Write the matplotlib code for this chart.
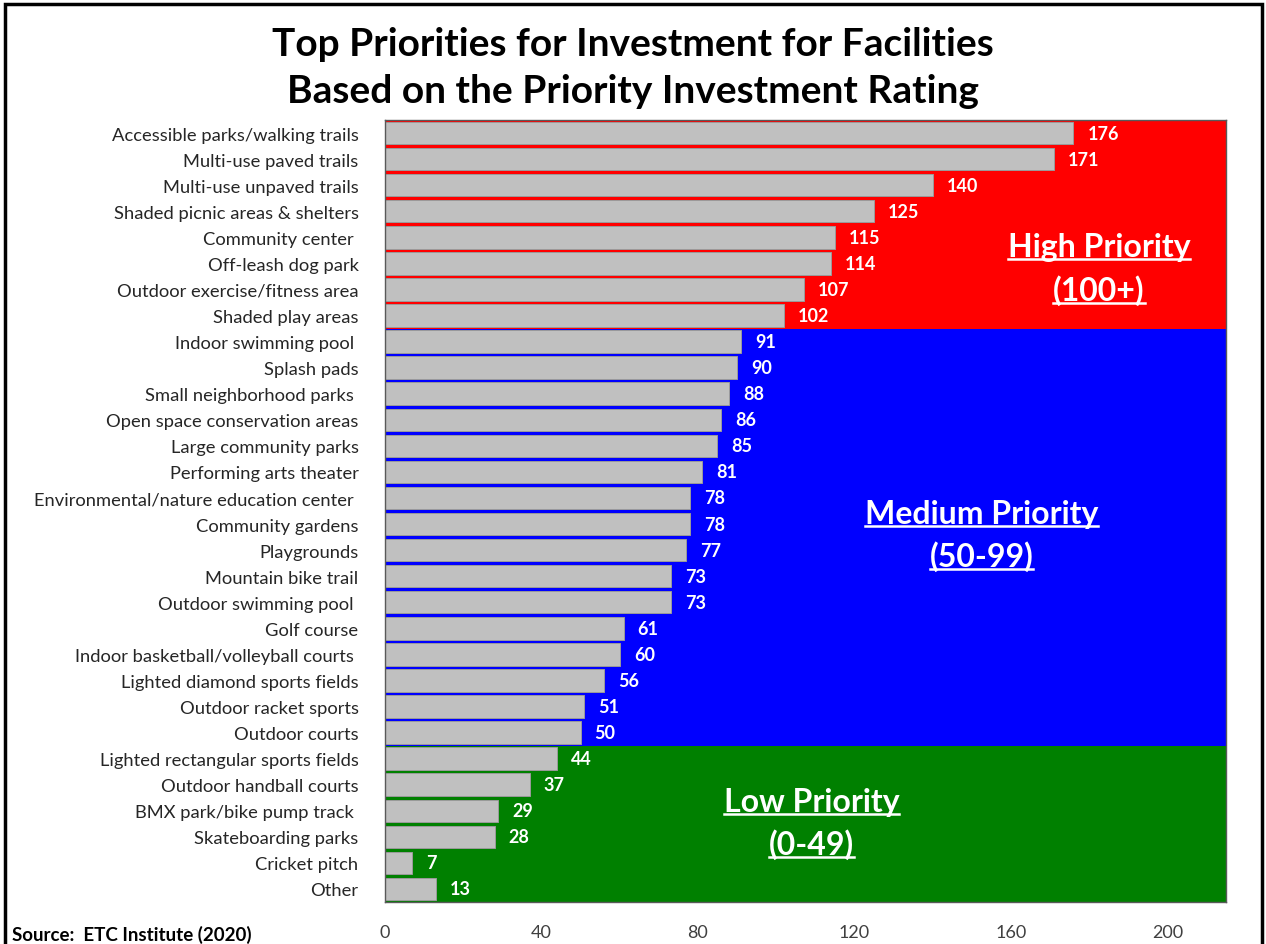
import matplotlib
matplotlib.use("Agg")
import matplotlib.pyplot as plt
from matplotlib.lines import Line2D
from matplotlib.patches import Rectangle

plt.rcParams['font.family'] = ['Lato', 'DejaVu Sans']

facilities = ["Accessible parks/walking trails", "Multi-use paved trails", "Multi-use unpaved trails",
              "Shaded picnic areas & shelters", "Community center ", "Off-leash dog park",
              "Outdoor exercise/fitness area", "Shaded play areas", "Indoor swimming pool ",
              "Splash pads", "Small neighborhood parks ", "Open space conservation areas",
              "Large community parks", "Performing arts theater", "Environmental/nature education center ",
              "Community gardens", "Playgrounds", "Mountain bike trail", "Outdoor swimming pool ",
              "Golf course", "Indoor basketball/volleyball courts ", "Lighted diamond sports fields",
              "Outdoor racket sports", "Outdoor courts", "Lighted rectangular sports fields",
              "Outdoor handball courts", "BMX park/bike pump track ", "Skateboarding parks",
              "Cricket pitch", "Other"]
ratings = [176, 171, 140, 125, 115, 114, 107, 102, 91, 90, 88, 86, 85, 81, 78,
           78, 77, 73, 73, 61, 60, 56, 51, 50, 44, 37, 29, 28, 7, 13]
x_ticks = [0, 40, 80, 120, 160, 200]

# priority bands: (name, range text, first row, last row, colour)
bands = [("High Priority", "(100+)", 0, 7, "#ff0000"),
         ("Medium Priority", "(50-99)", 8, 23, "#0000ff"),
         ("Low Priority", "(0-49)", 24, 29, "#008000")]
# where the band captions sit (x value, row of first line, row of second line)
band_text_pos = [(182.5, 4.35, 6.0), (152.5, 14.6, 16.2), (109, 25.65, 27.27)]

fig = plt.figure(figsize=(12.66, 9.45), dpi=100)
ax = fig.add_axes([385 / 1266, 1 - 903 / 945, (1226 - 385) / 1266, (903 - 121) / 945])

y = list(range(len(facilities)))
for (name, rng, r0, r1, col) in bands:
    ax.axhspan(r0 - 0.5, r1 + 0.5, color=col, zorder=0, lw=0)

ax.barh(y, ratings, height=0.86, color="#c0c0c0", edgecolor="#9a9a9a", linewidth=0.7, zorder=2)
for yi, v in zip(y, ratings):
    ax.text(v + 3.6, yi, str(v), color="white", fontweight="bold", fontsize=13,
            va="center", ha="left", zorder=3)

ax.set_xlim(0, 215)
ax.set_ylim(len(facilities) - 0.5, -0.5)
ax.set_yticks(y)
ax.set_yticklabels(facilities, fontsize=13.2, color="#262626")
ax.set_xticks(x_ticks)
ax.set_xticklabels([str(t) for t in x_ticks], fontsize=13, color="#404040")
ax.tick_params(axis="y", length=0, pad=19)
ax.tick_params(axis="x", length=0, pad=16)
for s in ax.spines.values():
    s.set_color("#595959")
    s.set_linewidth(1.0)

band_texts = []
for (name, rng, r0, r1, col), (bx, y1, y2) in zip(bands, band_text_pos):
    t1 = ax.text(bx, y1, name, color="white", fontweight="bold", fontsize=23,
                 ha="center", va="center", zorder=4)
    t2 = ax.text(bx, y2, rng, color="white", fontweight="bold", fontsize=23,
                 ha="center", va="center", zorder=4)
    band_texts += [t1, t2]

fig.text(0.5, 1 - 45 / 945, "Top Priorities for Investment for Facilities", ha="center", va="center",
         fontsize=28, fontweight="bold")
fig.text(0.5, 1 - 92 / 945, "Based on the Priority Investment Rating", ha="center", va="center",
         fontsize=28, fontweight="bold")
fig.text(12 / 1266, 1 - 935 / 945, "Source:  ETC Institute (2020)", ha="left", va="center",
         fontsize=13.5, fontweight="bold")

# outer frame
fig.patches.append(Rectangle((5 / 1266, -0.01), 1 - 9 / 1266, 1 - 5 / 945 + 0.01,
                             transform=fig.transFigure, fill=False, edgecolor="black", linewidth=2.5))

# underline the band labels
fig.canvas.draw()
r = fig.canvas.get_renderer()
for t in band_texts:
    bb = t.get_window_extent(renderer=r)
    yy = (bb.y0 + 2) / fig.bbox.height
    fig.add_artist(Line2D([bb.x0 / fig.bbox.width, bb.x1 / fig.bbox.width], [yy, yy],
                          transform=fig.transFigure, color="white", linewidth=1.8, zorder=5))

fig.savefig("out.png", dpi=100)
